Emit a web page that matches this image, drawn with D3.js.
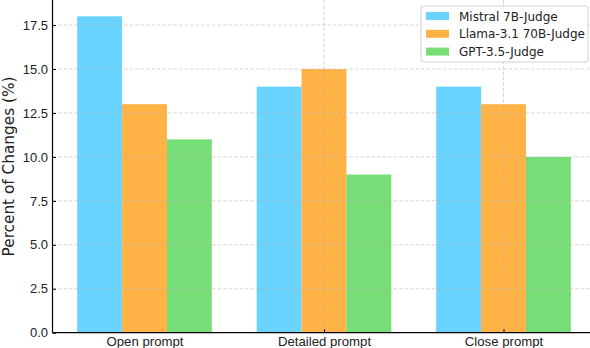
<!DOCTYPE html>
<html>
<head>
<meta charset="utf-8">
<script src="https://cdn.jsdelivr.net/npm/d3@7"></script>
<style>
body { margin: 0; background: #fff; }
svg { display: block; font-family: "DejaVu Sans", sans-serif; }
</style>
</head>
<body>
<svg width="590" height="348"></svg>
<script>
var categories = ["Open prompt", "Detailed prompt", "Close prompt"];
var series = ["Mistral 7B-Judge", "Llama-3.1 70B-Judge", "GPT-3.5-Judge"];
var colors = ["#68d4ff", "#ffb347", "#77dd77"];
var values = [
  [18, 14, 14],   // Mistral
  [13, 15, 13],   // Llama
  [11, 9, 10]     // GPT-3.5
];
var yTicks = [0, 2.5, 5, 7.5, 10, 12.5, 15, 17.5];

var svg = d3.select("svg"),
  left = 52.5, bottom = 332.7;

var x = d3.scaleLinear().domain([-0.5125, 2.5125]).range([left, 595.5]);
var xs = d3.scaleBand().domain(series).range([-0.375, 0.375]);
var y = d3.scaleLinear().domain([0, 18.9]).range([bottom, 0.5]);

// bars
var rows = [];
series.forEach(function (s, si) {
  categories.forEach(function (c, ci) {
    rows.push({ s: s, si: si, ci: ci, v: values[si][ci] });
  });
});
svg.append("g").selectAll("rect")
  .data(rows).enter().append("rect")
  .attr("x", function (d) { return x(d.ci + xs(d.s)); })
  .attr("width", function (d) { return x(d.ci + xs(d.s) + xs.bandwidth()) - x(d.ci + xs(d.s)); })
  .attr("y", function (d) { return y(d.v); })
  .attr("height", function (d) { return bottom - y(d.v); })
  .attr("fill", function (d) { return colors[d.si]; });

// grid sits above the bars (no vertical line shows at the first group)
var grid = svg.append("g")
  .attr("stroke", "#b0b0b0").attr("stroke-opacity", 0.6)
  .attr("stroke-dasharray", "3.5,2").attr("stroke-width", 0.9);
grid.selectAll(".h").data(yTicks.slice(1)).enter().append("line")
  .attr("x1", left).attr("x2", 590)
  .attr("y1", function (d) { return y(d); }).attr("y2", function (d) { return y(d); });
grid.selectAll(".v").data([1, 2]).enter().append("line")
  .attr("x1", function (d) { return x(d); }).attr("x2", function (d) { return x(d); })
  .attr("y1", 0).attr("y2", bottom);

// axes, ticks point inward
var yAxis = svg.append("g")
  .attr("transform", "translate(" + left + ",0)")
  .call(d3.axisLeft(y).tickValues(yTicks).tickFormat(d3.format(".1f")).tickSizeOuter(0).tickSize(-3.5));
yAxis.select(".domain").attr("stroke", "#000").attr("stroke-width", 1.2).attr("d", "M0,0V" + bottom);
yAxis.selectAll("text").attr("x", -4.5).attr("font-size", 13).attr("fill", "#222");

var xAxis = svg.append("g")
  .attr("transform", "translate(0," + bottom + ")")
  .call(d3.axisBottom(x).tickValues([0, 1, 2]).tickFormat(function (d) { return categories[d]; }).tickSizeOuter(0).tickSize(-3.5));
xAxis.select(".domain").attr("stroke", "#000").attr("stroke-width", 1.2).attr("d", "M" + left + ",0H590");
xAxis.selectAll(".tick line").filter(function (d) { return d === 0; }).remove();
xAxis.selectAll("text").attr("y", 13.6).attr("dy", 0).attr("font-size", 13.2).attr("fill", "#222");

svg.append("text")
  .attr("transform", "translate(13.5,166.5) rotate(-90)")
  .attr("text-anchor", "middle")
  .attr("font-size", 15.3).attr("fill", "#222")
  .text("Percent of Changes (%)");

// legend
var lg = svg.append("g").attr("transform", "translate(421,6)");
lg.append("rect").attr("width", 167).attr("height", 56).attr("rx", 2.5)
  .attr("fill", "#fff").attr("fill-opacity", 0.85).attr("stroke", "#d0d0d0");
series.forEach(function (s, i) {
  var g = lg.append("g").attr("transform", "translate(0," + (10 + i * 17.8) + ")");
  g.append("rect").attr("x", 5).attr("y", -4).attr("width", 23).attr("height", 8).attr("fill", colors[i]);
  g.append("text").attr("x", 38).attr("y", 4.5).attr("font-size", 12).attr("fill", "#222").text(s);
});
</script>
</body>
</html>
